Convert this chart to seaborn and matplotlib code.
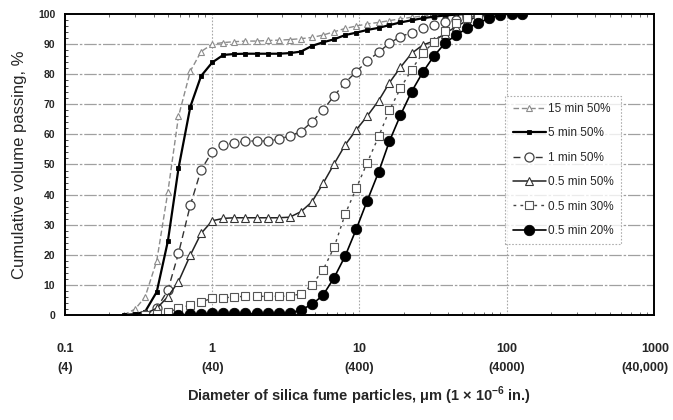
import numpy as np
import pandas as pd
import matplotlib
matplotlib.use("Agg")
import matplotlib.pyplot as plt
import matplotlib.transforms as mtransforms
from matplotlib.ticker import FixedLocator, MultipleLocator, NullFormatter
import seaborn as sns

# Particle size classes, um
diameter = [0.25, 0.30, 0.35, 0.42, 0.50, 0.59, 0.71, 0.84, 1.0, 1.19, 1.41, 1.68,
            2.0, 2.38, 2.83, 3.36, 4.0, 4.76, 5.66, 6.73, 8.0, 9.51, 11.3, 13.5,
            16.0, 19.0, 22.6, 26.9, 32.0, 38.1, 45.3, 53.8, 64.0, 76.1, 90.5, 108, 128]

nan = np.nan
# Cumulative volume passing, %
mix_15min_50 = [0, 2, 6, 18, 41, 66, 81, 87.5, 90, 90.5, 90.8, 91, 91, 91.2, 91.3, 91.5,
                91.8, 92.2, 93, 94.1, 95.2, 96, 96.7, 97.2, 97.8, 98.4, 98.9, 99.3, 99.6,
                99.8, 100, 100, 100, nan, nan, nan, nan]
mix_5min_50 = [0, 0.3, 1.1, 7.7, 24.6, 48.7, 69.2, 79.4, 83.9, 86.4, 86.7, 86.8, 86.8,
               86.8, 86.8, 87, 87.5, 89.4, 90.6, 91.6, 93.0, 93.8, 94.7, 95.4, 96.3, 97.2,
               97.9, 98.6, 99.1, 99.5, 99.8, 100, 100, nan, nan, nan, nan]
mix_1min_50 = [nan, nan, 0, 2.2, 8.3, 20.5, 36.5, 48.2, 54.3, 56.5, 57.2, 57.8, 57.8, 57.8,
               58.4, 59.5, 60.9, 64.2, 68.1, 72.8, 77.2, 80.8, 84.4, 87.3, 90.3, 92.5, 93.8,
               95.2, 96.4, 97.4, 98.0, 98.8, 99.7, 100, 100, nan, nan]
mix_05min_50 = [nan, nan, 0.5, 2.2, 6.1, 11.1, 19.9, 27.1, 31.3, 32.1, 32.3, 32.3, 32.3,
                32.3, 32.3, 32.5, 34.3, 37.6, 43.7, 50.2, 56.5, 61.5, 66.1, 71.2, 77.2, 82.3,
                86.9, 89.7, 91.0, 93.5, 95.8, 97.8, 99.2, 99.8, 100, nan, nan]
mix_05min_30 = [nan, nan, 0, 0.3, 0.9, 2.2, 3.3, 4.4, 5.5, 5.7, 6.0, 6.2, 6.2, 6.2, 6.2,
                6.3, 7.0, 10.0, 15, 22.5, 33.5, 42.1, 50.6, 59.3, 68.1, 75.3, 81.5, 87,
                90.6, 94.5, 96.9, 98.6, 99.7, 100, 100, nan, nan]
mix_05min_20 = [nan, nan, nan, nan, nan, 0, 0.3, 0.4, 0.5, 0.5, 0.5, 0.5, 0.5, 0.5, 0.6,
                0.6, 1.7, 3.5, 6.6, 12.4, 19.6, 28.5, 38, 47.5, 57.8, 66.4, 74.2, 80.6,
                86.0, 90.3, 93.0, 95.2, 97.0, 98.6, 99.7, 100, 100]

labels = ["15 min 50%", "5 min 50%", "1 min 50%", "0.5 min 50%", "0.5 min 30%", "0.5 min 20%"]
series = [mix_15min_50, mix_5min_50, mix_1min_50, mix_05min_50, mix_05min_30, mix_05min_20]

x_ticks = [0.1, 1, 10, 100, 1000]
x_tick_labels = ["0.1\n(4)", "1\n(40)", "10\n(400)", "100\n(4000)", "1000\n(40,000)"]
y_ticks = list(range(0, 101, 10))

styles = {
    "15 min 50%": dict(color="#8c8c8c", linestyle=(0, (4, 2)), linewidth=1.0, marker="^",
                       markersize=4, markerfacecolor="white", markeredgecolor="#8c8c8c",
                       markeredgewidth=0.8),
    "5 min 50%": dict(color="black", linestyle="-", linewidth=1.6, marker="s",
                      markersize=3.5, markerfacecolor="black", markeredgecolor="black",
                      markeredgewidth=0.6),
    "1 min 50%": dict(color="#333333", linestyle=(0, (5, 3)), linewidth=1.0, marker="o",
                      markersize=6.5, markerfacecolor="white", markeredgecolor="#444444",
                      markeredgewidth=0.9),
    "0.5 min 50%": dict(color="#222222", linestyle="-", linewidth=1.1, marker="^",
                        markersize=5.5, markerfacecolor="white", markeredgecolor="#333333",
                        markeredgewidth=0.8),
    "0.5 min 30%": dict(color="#444444", linestyle=(0, (2, 3)), linewidth=1.0, marker="s",
                        markersize=5.5, markerfacecolor="white", markeredgecolor="#555555",
                        markeredgewidth=0.8),
    "0.5 min 20%": dict(color="black", linestyle="-", linewidth=1.2, marker="o",
                        markersize=7.5, markerfacecolor="black", markeredgecolor="black",
                        markeredgewidth=0.6),
}

frames = []
for lab, vals in zip(labels, series):
    frames.append(pd.DataFrame({"diameter": diameter, "passing": vals, "mix": lab}))
df = pd.concat(frames, ignore_index=True)

sns.set_style("white")
plt.rcParams["font.family"] = ["Liberation Sans", "DejaVu Sans"]

fig = plt.figure(figsize=(6.73, 4.2), dpi=100)
ax = fig.add_axes([0.0966, 0.25, 0.875, 0.7167])

for lab in labels:
    sub = df[df["mix"] == lab].dropna()
    sns.lineplot(data=sub, x="diameter", y="passing", ax=ax, label=lab,
                 sort=True, errorbar=None, **styles[lab])

ax.set_xscale("log")
ax.set_xlim(0.1, 1000)
ax.set_ylim(0, 100)

# grid
for yv in y_ticks[1:-1]:
    ax.axhline(yv, color="#a0a0a0", linewidth=0.9, linestyle=(0, (10, 1.5, 2, 1.5)), zorder=0)
for xv in [1, 10, 100]:
    ax.axvline(xv, color="#a8a8a8", linewidth=0.8, linestyle=(0, (1.5, 1.5)), zorder=0)

ax.xaxis.set_major_locator(FixedLocator(x_ticks))
ax.set_xticklabels(x_tick_labels, fontsize=9, fontweight="bold")
minor_x = [m * 10.0 ** e for e in range(-1, 3) for m in range(2, 10)]
ax.xaxis.set_minor_locator(FixedLocator(minor_x))
ax.xaxis.set_minor_formatter(NullFormatter())
ax.tick_params(axis="x", which="major", length=0, pad=20)
ax.tick_params(axis="x", which="minor", length=2.5, width=0.6, direction="in",
               bottom=True, top=True, color="#555555")
xlabels = ax.get_xticklabels()
for t in xlabels:
    t.set_linespacing(1.75)
# keep the widest label inside the figure: right-align it on the last tick
last = xlabels[-1]
last.set_horizontalalignment("right")
last.set_multialignment("right")
last.set_transform(last.get_transform() +
                   mtransforms.ScaledTranslation(15 / 100, 0, fig.dpi_scale_trans))

ax.set_yticks(y_ticks)
ax.set_yticklabels([str(v) for v in y_ticks], fontsize=7.5, fontweight="bold")
ax.yaxis.set_minor_locator(MultipleLocator(2))
ax.tick_params(axis="y", which="major", length=4, width=0.8, direction="out", pad=3)
ax.tick_params(axis="y", which="minor", length=2, width=0.6, direction="in", left=True)

for sp in ax.spines.values():
    sp.set_visible(True)
    sp.set_color("black")
    sp.set_linewidth(1.4)

ax.set_xlabel("Diameter of silica fume particles, $\\mathregular{\\mu}$m (1 \u00d7 10$^{\\mathregular{-6}}$ in.)",
              fontsize=10.5, fontweight="bold", labelpad=8)
ax.set_ylabel("Cumulative volume passing, %", fontsize=12, labelpad=8)

leg = ax.legend(loc="upper left", bbox_to_anchor=(0.748, 0.728), fontsize=8.5,
                frameon=True, fancybox=False, handlelength=2.8, handletextpad=0.2,
                labelspacing=1.05, borderpad=0.6, borderaxespad=0)
leg.get_frame().set_edgecolor("#9a9a9a")
leg.get_frame().set_linestyle((0, (1.5, 1.5)))
leg.get_frame().set_linewidth(0.8)

fig.savefig("out.png", dpi=100)
